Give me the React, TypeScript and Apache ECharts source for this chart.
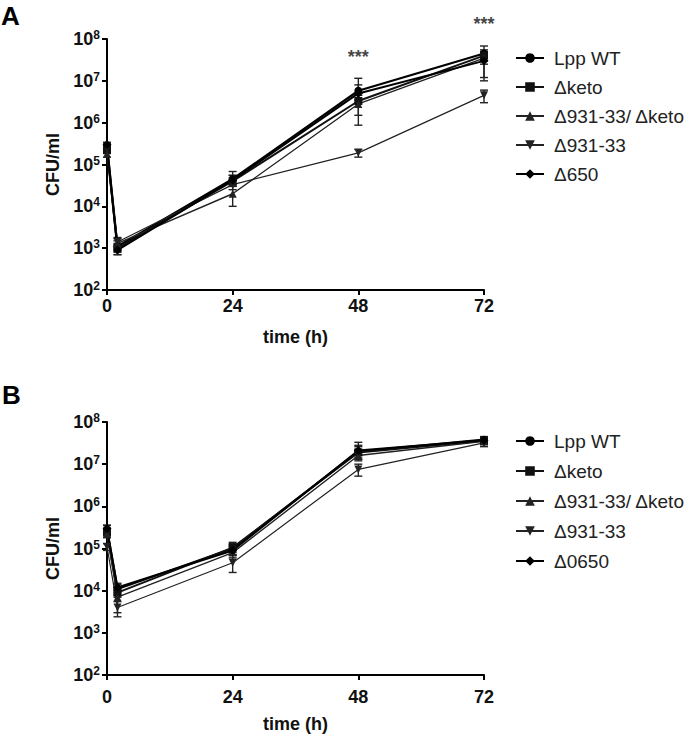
import React, { useEffect, useRef } from "react";
import * as echarts from "echarts";

const TIMES = [0, 2, 24, 48, 72];
const X_TICKS = [0, 24, 48, 72];

const NAMES_A = ["Lpp WT", "Δketo", "Δ931-33/ Δketo", "Δ931-33", "Δ650"];
const NAMES_B = ["Lpp WT", "Δketo", "Δ931-33/ Δketo", "Δ931-33", "Δ0650"];

// Panel A means (CFU/ml)
const A_LPP = [2.8e5, 1.1e3, 4.5e4, 5.8e6, 4.5e7];
const A_KETO = [2.2e5, 1.0e3, 4.0e4, 3.3e6, 4.0e7];
const A_931K = [1.8e5, 1.3e3, 2.0e4, 2.8e6, 3.5e7];
const A_931 = [2.5e5, 1.4e3, 3.3e4, 1.9e5, 4.5e6];
const A_650 = [3.0e5, 0.9e3, 4.2e4, 5.0e6, 3.0e7];

// Panel A error bar low / high
const A_LO = [
  [2.4e5, 0.8e3, 3.5e4, 3.0e6, 3.0e7],
  [1.9e5, 0.7e3, 3.0e4, 1.5e6, 2.5e7],
  [1.5e5, 1.0e3, 1.0e4, 8.7e5, 1.0e7],
  [2.1e5, 1.1e3, 2.5e4, 1.5e5, 3.0e6],
  [2.6e5, 0.7e3, 3.2e4, 3.5e6, 1.2e7],
];
const A_HI = [
  [3.3e5, 1.5e3, 6.8e4, 1.15e7, 6.8e7],
  [2.6e5, 1.3e3, 5.5e4, 5.0e6, 5.5e7],
  [2.1e5, 1.8e3, 3.0e4, 4.5e6, 5.0e7],
  [2.9e5, 1.7e3, 4.2e4, 2.3e5, 6.0e6],
  [3.4e5, 1.2e3, 5.5e4, 8.0e6, 4.5e7],
];

// Panel B means
const B_LPP = [2.8e5, 1.1e4, 1.0e5, 2.0e7, 3.8e7];
const B_KETO = [2.4e5, 9.0e3, 1.05e5, 1.9e7, 3.6e7];
const B_931K = [2.2e5, 7.0e3, 8.0e4, 1.6e7, 3.5e7];
const B_931 = [1.1e5, 4.0e3, 4.6e4, 7.5e6, 3.2e7];
const B_0650 = [3.0e5, 1.2e4, 9.0e4, 2.1e7, 3.7e7];

const B_LO = [
  [2.2e5, 8.0e3, 8.0e4, 1.3e7, 3.2e7],
  [2.0e5, 7.0e3, 7.0e4, 1.4e7, 3.0e7],
  [1.8e5, 2.4e3, 6.0e4, 1.2e7, 2.9e7],
  [0.9e5, 3.0e3, 2.7e4, 5.2e6, 2.6e7],
  [2.5e5, 9.0e3, 7.0e4, 1.6e7, 3.2e7],
];
const B_HI = [
  [3.5e5, 1.4e4, 1.3e5, 3.3e7, 4.5e7],
  [3.0e5, 1.2e4, 1.4e5, 2.6e7, 4.3e7],
  [2.7e5, 1.0e4, 1.1e5, 2.2e7, 4.2e7],
  [1.3e5, 5.5e3, 7.0e4, 1.0e7, 3.9e7],
  [3.6e5, 1.5e4, 1.2e5, 2.8e7, 4.5e7],
];

// significance marks in panel A: [time, y position value]
const STARS_A = [
  [48, 3.7e7],
  [72, 2.3e8],
];

const FONT = "'Liberation Sans', Arial, Helvetica, sans-serif";
const TRI_DOWN = "path://M0,0 L10,0 L5,9 Z";
const SYMBOLS = ["circle", "rect", "triangle", TRI_DOWN, "diamond"];
const SIZES = [8, 8, 8, 8, 9];
const WIDTHS = [2.2, 2, 1.4, 1.2, 2];
const COLORS = ["#000", "#111", "#222", "#222", "#000"];

export default function App() {
  const ref = useRef<HTMLDivElement>(null);

  useEffect(() => {
    if (!ref.current) return;
    const chart = echarts.init(ref.current, null, { renderer: "svg" });

    const seriesFor = (names: string[], vals: number[][], idx: number) =>
      names.map((n, i) => ({
        type: "line",
        name: n,
        xAxisIndex: idx,
        yAxisIndex: idx,
        data: TIMES.map((t, j) => [t, vals[i][j]]),
        symbol: SYMBOLS[i],
        symbolSize: SIZES[i],
        showSymbol: true,
        lineStyle: { color: COLORS[i], width: WIDTHS[i] },
        itemStyle: { color: COLORS[i] },
        z: 3,
      }));

    const errFor = (lo: number[][], hi: number[][], idx: number) => {
      const data: number[][] = [];
      lo.forEach((row, i) =>
        row.forEach((l, j) => data.push([TIMES[j], l, hi[i][j]]))
      );
      return {
        type: "custom",
        xAxisIndex: idx,
        yAxisIndex: idx,
        data,
        z: 2,
        silent: true,
        encode: { x: 0, y: [1, 2] },
        renderItem: (_p: any, api: any) => {
          const x = api.value(0);
          const p1 = api.coord([x, api.value(1)]);
          const p2 = api.coord([x, api.value(2)]);
          const w = 4;
          const st = { stroke: "#222", lineWidth: 1.4 };
          return {
            type: "group",
            children: [
              { type: "line", shape: { x1: p1[0], y1: p1[1], x2: p2[0], y2: p2[1] }, style: st },
              { type: "line", shape: { x1: p1[0] - w, y1: p1[1], x2: p1[0] + w, y2: p1[1] }, style: st },
              { type: "line", shape: { x1: p2[0] - w, y1: p2[1], x2: p2[0] + w, y2: p2[1] }, style: st },
            ],
          };
        },
      };
    };

    const xAxisFor = (idx: number, labelMargin: number, nameGap: number) => ({
      type: "value",
      gridIndex: idx,
      min: 0,
      max: 72,
      interval: 24,
      name: "time (h)",
      nameLocation: "middle",
      nameGap,
      nameTextStyle: { fontFamily: FONT, fontSize: 18, fontWeight: "bold", color: "#111" },
      axisLine: { show: true, onZero: false, lineStyle: { color: "#000", width: 2 } },
      axisTick: { show: true, length: 5, lineStyle: { color: "#000", width: 2 } },
      axisLabel: {
        margin: labelMargin,
        fontFamily: FONT,
        fontSize: 18,
        fontWeight: "bold",
        color: "#111",
        formatter: (v: number) => (X_TICKS.includes(v) ? String(v) : ""),
      },
      splitLine: { show: false },
    });

    const yAxisFor = (idx: number) => ({
      type: "log",
      logBase: 10,
      gridIndex: idx,
      min: 100,
      max: 1e8,
      interval: 1,
      name: "CFU/ml",
      nameLocation: "middle",
      nameGap: 40,
      nameTextStyle: { fontFamily: FONT, fontSize: 18, fontWeight: "bold", color: "#111" },
      axisLine: { show: true, onZero: false, lineStyle: { color: "#000", width: 2 } },
      axisTick: { show: true, length: 5, lineStyle: { color: "#000", width: 2 } },
      axisLabel: {
        margin: 7,
        formatter: (v: number) => `{b|10}{s|${Math.round(Math.log10(v))}}`,
        rich: {
          b: { fontFamily: FONT, fontSize: 18, fontWeight: "bold", color: "#111" },
          s: { fontFamily: FONT, fontSize: 12, fontWeight: "bold", color: "#111", verticalAlign: "top", padding: [0, 0, 8, 0] },
        },
      },
      splitLine: { show: false },
      minorTick: { show: false },
    });

    const legendFor = (names: string[], top: number, gap: number) => ({
      orient: "vertical",
      left: 510,
      top,
      itemGap: gap,
      itemWidth: 28,
      itemHeight: 12,
      data: names,
      selectedMode: false,
      textStyle: {
        fontFamily: FONT,
        fontSize: 19,
        color: "#222",
        lineHeight: 20,
        padding: [0, 0, 0, 5],
      },
    });

    const option: any = {
      animation: false,
      backgroundColor: "#fff",
      title: [
        { text: "A", left: 1, top: 3, padding: 0, textStyle: { fontFamily: FONT, fontSize: 26, fontWeight: "bold", color: "#000" } },
        { text: "B", left: 2, top: 382, padding: 0, textStyle: { fontFamily: FONT, fontSize: 26, fontWeight: "bold", color: "#000" } },
      ],
      grid: [
        { left: 107, top: 39, width: 377, height: 251 },
        { left: 107, top: 422, width: 377, height: 253 },
      ],
      xAxis: [xAxisFor(0, 7, 38), xAxisFor(1, 13, 40)],
      yAxis: [yAxisFor(0), yAxisFor(1)],
      legend: [legendFor(NAMES_A, 43, 9), legendFor(NAMES_B, 426, 10)],
      series: [
        errFor(A_LO, A_HI, 0),
        errFor(B_LO, B_HI, 1),
        ...seriesFor(NAMES_A, [A_LPP, A_KETO, A_931K, A_931, A_650], 0),
        ...seriesFor(NAMES_B, [B_LPP, B_KETO, B_931K, B_931, B_0650], 1),
        {
          type: "scatter",
          xAxisIndex: 0,
          yAxisIndex: 0,
          data: STARS_A,
          symbol: "circle",
          symbolSize: 1,
          clip: false,
          silent: true,
          itemStyle: { color: "rgba(0,0,0,0)" },
          label: {
            show: true,
            position: "inside",
            formatter: "***",
            fontFamily: FONT,
            fontSize: 18,
            fontWeight: "bold",
            color: "#111",
          },
        },
      ],
    };

    chart.setOption(option);
    return () => chart.dispose();
  }, []);

  return (
    <div
      ref={ref}
      style={{ position: "fixed", left: 0, top: 0, width: 693, height: 736, background: "#fff" }}
    />
  );
}
